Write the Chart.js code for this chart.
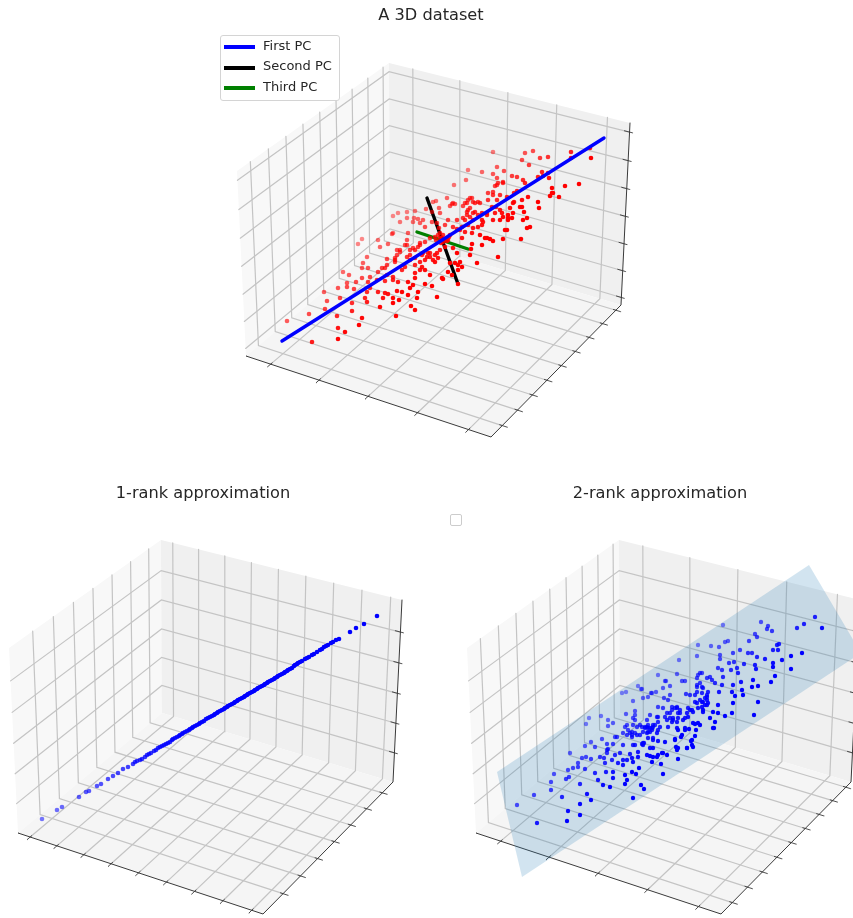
<!DOCTYPE html>
<html>
<head>
<meta charset="utf-8">
<script src="https://cdn.jsdelivr.net/npm/chart.js@4"></script>
<style>
html, body { margin: 0; padding: 0; background: #fff; overflow: hidden; width: 853px; height: 918px; }
canvas { position: absolute; filter: blur(0.55px); }
.title { position: absolute; font: 16.2px "DejaVu Sans"; color: #262626; transform: translateX(-50%); white-space: nowrap; filter: blur(0.3px); }
#legend { position: absolute; left: 220px; top: 35px; width: 118px; height: 64px; background: rgba(255,255,255,0.85); border: 1px solid #d4d4d4; border-radius: 3px; filter: blur(0.3px); }
.key { position: absolute; left: 3px; width: 31px; height: 3.5px; }
.lab { position: absolute; left: 42px; font: 13px "DejaVu Sans"; color: #262626; white-space: nowrap; }
#emptyLegend { position: absolute; left: 450px; top: 514px; width: 10px; height: 10px; background: #fff; border: 1px solid #ccc; border-radius: 2px; }
</style>
</head>
<body>
<canvas id="chart1"></canvas>
<canvas id="chart2"></canvas>
<canvas id="chart3"></canvas>
<div class="title" style="left:431px;top:5px">A 3D dataset</div>
<div class="title" style="left:203px;top:483px">1-rank approximation</div>
<div class="title" style="left:660px;top:483px">2-rank approximation</div>
<div id="legend">
  <div class="key" style="top:9px;background:#0000ff"></div><div class="lab" style="top:2px">First PC</div>
  <div class="key" style="top:30px;background:#000"></div><div class="lab" style="top:22px">Second PC</div>
  <div class="key" style="top:50px;background:#008000"></div><div class="lab" style="top:43px">Third PC</div>
</div>
<div id="emptyLegend"></div>
<script>
// the box of the lower left plot. the other two are the same box moved
var cornerL = [18, 833];
var cornerF = [263, 914];
var cornerR = [393, 782];
var cornerB = [162, 713];
var cornerLtop = [9, 648];
var cornerRtop = [402, 600];
var cornerBtop = [161, 540];

// tick positions along each axis, 0..1 of the box
var ticksX5 = [0.105, 0.308, 0.51, 0.71, 0.912];
var ticksX9 = [0.052, 0.165, 0.278, 0.391, 0.504, 0.617, 0.73, 0.843, 0.956];
var ticksY7 = [0.143, 0.271, 0.399, 0.527, 0.655, 0.783, 0.911];
var ticksY9 = [0.08, 0.19, 0.30, 0.409, 0.519, 0.628, 0.738, 0.848, 0.957];
var ticksZ5 = [0.166, 0.332, 0.498, 0.664, 0.83];
var ticksZ7 = [0.043, 0.195, 0.346, 0.498, 0.649, 0.80, 0.952];

var firstPC = [[282, 341], [604, 138]];
var secondPC = [[427, 198], [458, 284]];
var thirdPC = [[417, 232], [468, 249]];
var planeEdge = [[497, 772], [809, 565], [861, 653], [522, 877], [497, 772]];

var redPoints = [
[493,152],[525,153],[533,151],[540,158],[548,157],[571,152],[571,158],[591,158],[590,148],[522,160],[529,165],[497,167],
[468,170],[482,172],[493,174],[504,171],[512,176],[517,177],[542,172],[548,173],[538,177],[543,176],[549,178],[466,180],
[454,185],[497,178],[503,182],[498,183],[495,186],[493,192],[488,193],[500,195],[507,197],[514,193],[523,180],[525,183],
[565,186],[579,184],[552,188],[552,193],[550,196],[553,193],[559,197],[528,197],[538,202],[539,208],[522,200],[517,191],
[520,207],[524,212],[514,202],[447,198],[470,198],[473,202],[478,202],[467,203],[463,206],[452,204],[455,204],[436,201],
[488,200],[492,207],[496,207],[468,210],[473,213],[467,215],[482,213],[487,213],[495,213],[500,210],[503,217],[508,215],
[512,218],[508,220],[493,220],[483,222],[473,220],[463,218],[457,220],[448,220],[433,202],[527,228],[507,230],[393,216],
[398,213],[407,212],[415,211],[407,218],[400,222],[414,218],[418,219],[423,220],[420,223],[413,222],[426,209],[432,212],
[439,208],[440,213],[453,203],[450,206],[392,234],[425,227],[432,222],[437,223],[439,228],[445,225],[453,227],[450,235],
[457,229],[462,227],[468,225],[478,227],[482,220],[465,232],[472,233],[480,235],[485,238],[490,239],[493,241],[503,239],
[521,239],[482,245],[472,244],[470,255],[498,257],[477,263],[457,253],[440,233],[435,237],[430,238],[425,242],[420,245],
[415,250],[410,250],[405,245],[400,250],[397,255],[395,260],[407,257],[415,258],[422,255],[428,253],[435,255],[440,250],
[445,247],[443,242],[440,238],[448,240],[435,262],[425,260],[422,267],[425,270],[415,273],[430,275],[450,263],[460,262],
[462,267],[458,270],[448,272],[442,278],[402,270],[393,277],[505,230],[530,227],[513,213],[523,220],[471,249],[487,238],
[452,275],[443,279],[458,284],[432,286],[425,284],[437,297],[418,292],[410,288],[413,285],[408,282],[420,270],[433,260],
[427,257],[402,292],[397,291],[388,294],[393,298],[383,298],[378,292],[385,293],[399,300],[393,303],[408,295],[417,298],
[411,306],[415,310],[380,307],[396,316],[365,298],[367,302],[352,303],[340,298],[327,301],[324,292],[338,288],[347,287],
[354,289],[347,283],[356,282],[362,278],[370,277],[368,282],[367,292],[370,288],[377,280],[385,281],[393,280],[398,282],
[387,275],[378,272],[382,268],[387,265],[395,262],[395,258],[387,259],[367,257],[363,263],[368,268],[362,268],[349,275],
[343,272],[358,244],[362,239],[378,240],[380,247],[388,244],[397,250],[400,252],[407,240],[407,245],[413,248],[393,233],
[408,233],[420,243],[430,253],[437,253],[415,265],[410,260],[385,268],[415,278],[309,314],[325,309],[337,316],[352,311],
[362,318],[359,325],[338,328],[345,332],[338,339],[312,342],[287,321],[442,238],[445,240],[438,235],[447,241],[443,235],
[436,240],[441,243],[449,237],[468,200],[472,198],[465,203],[475,203],[480,203],[470,208],[467,212],[475,212],[478,215],
[470,217],[465,220],[493,195],[497,185],[497,200],[503,183],[510,208],[513,203],[522,207],[527,218],[502,213],[500,220],
[508,218],[487,215],[482,225],[473,228],[460,230],[462,238],[453,248],[458,265],[455,263],[423,253],[418,247],[430,257],
[410,255],[420,262],[405,267],[438,258]
];

var linePoints = [
[42,819],[57,810],[62,807],[79,797],[86,792],[89,791],[97,786],[101,784],[108,779],[113,776],[118,773],[123,769],[128,767],
[133,764],[135,762],[137,761],[140,760],[142,759],[145,757],[147,755],[149,754],[151,753],[154,751],[156,750],[158,748],[160,747],
[162,746],[164,745],[166,744],[168,743],[170,742],[172,740],[173,739],[175,738],[177,737],[179,736],[180,735],[182,734],[183,733],
[185,732],[187,731],[189,730],[190,729],[192,728],[193,727],[195,726],[197,725],[199,724],[200,723],[202,722],[204,721],[206,719],
[208,718],[210,717],[212,716],[214,715],[215,714],[217,713],[218,712],[220,711],[222,710],[224,709],[225,708],[227,707],[228,706],
[230,705],[232,704],[234,703],[235,702],[237,701],[238,700],[240,699],[242,698],[244,697],[245,696],[247,695],[248,694],[250,693],
[252,692],[254,691],[255,690],[257,689],[258,688],[260,687],[262,686],[264,685],[265,684],[267,683],[268,682],[270,681],[272,680],
[274,679],[275,678],[277,677],[278,676],[280,675],[282,674],[284,673],[285,672],[287,671],[288,670],[290,669],[292,668],[294,666],
[295,665],[297,664],[298,663],[300,662],[302,661],[305,659],[307,658],[309,657],[312,655],[314,654],[317,652],[320,650],[322,649],
[324,647],[326,646],[328,645],[331,643],[333,642],[336,640],[339,639],[350,632],[356,628],[364,624],[377,616]
];

var bluePoints = [
[517,805],[537,823],[534,795],[551,790],[551,782],[554,774],[562,797],[568,811],[567,821],[580,815],[580,804],[587,794],
[591,800],[580,784],[566,779],[569,777],[568,770],[573,768],[578,767],[578,763],[582,758],[586,757],[591,759],[585,769],
[595,773],[598,780],[603,785],[610,787],[606,772],[613,772],[613,778],[625,775],[627,780],[625,784],[633,798],[641,785],
[644,789],[632,772],[636,774],[639,768],[627,760],[633,762],[623,760],[618,763],[612,760],[604,758],[605,763],[570,753],
[585,746],[595,747],[591,742],[602,739],[607,744],[613,744],[608,749],[607,753],[620,753],[630,754],[638,752],[635,745],
[642,744],[644,743],[650,748],[653,748],[650,756],[657,757],[662,753],[667,755],[663,774],[661,764],[652,762],[678,759],
[677,750],[676,747],[687,748],[693,747],[691,741],[695,736],[681,737],[675,739],[665,742],[658,741],[653,738],[586,724],
[589,718],[601,716],[608,720],[613,723],[608,726],[626,714],[635,711],[622,693],[626,692],[633,701],[638,686],[642,689],
[643,698],[648,697],[652,693],[658,675],[663,688],[665,681],[677,674],[679,660],[697,656],[698,645],[711,646],[723,625],
[719,647],[725,642],[728,641],[720,655],[720,659],[733,653],[740,650],[749,641],[755,634],[757,637],[761,622],[768,626],
[767,629],[772,631],[797,628],[804,624],[815,617],[822,628],[777,645],[779,644],[773,650],[778,650],[791,656],[802,653],
[782,660],[773,663],[773,667],[791,669],[775,676],[771,682],[765,659],[757,657],[748,653],[752,653],[744,664],[755,665],
[756,669],[753,680],[758,686],[752,687],[758,702],[754,715],[743,695],[742,690],[735,696],[732,692],[733,703],[732,713],
[741,682],[733,685],[738,673],[737,668],[731,670],[729,663],[734,662],[722,670],[718,668],[723,677],[722,685],[715,683],
[719,692],[710,677],[707,678],[700,673],[697,678],[697,685],[702,687],[708,692],[707,697],[700,700],[695,702],[690,695],
[686,694],[695,695],[703,702],[708,703],[703,710],[698,708],[692,710],[713,712],[718,713],[725,716],[715,722],[710,718],
[714,728],[698,723],[695,724],[688,717],[683,720],[680,713],[677,708],[672,707],[667,713],[663,708],[657,717],[670,718],
[673,720],[685,730],[689,729],[678,730],[668,727],[660,727],[658,722],[650,715],[647,720],[647,727],[652,730],[657,733],
[642,727],[637,727],[632,732],[633,718],[635,715],[625,727],[623,733],[630,733],[640,735],[648,738],[617,737],[643,745],
[666,681],[670,686],[682,681],[685,681],[656,692],[651,693],[641,689],[670,695],[664,698],[668,700],[658,707],[658,717],
[665,717],[670,713],[675,708],[680,710],[673,718],[678,718],[688,708],[693,712],[687,713],[697,692],[702,693],[707,695],
[707,700],[702,702],[697,703],[705,705],[703,712],[718,705],[635,720],[640,725],[648,728],[653,725],[627,725],[632,735],
[615,737],[677,728],[685,728],[693,723],[700,725],[713,728],[675,740],[682,735],[692,740],[696,730],[643,743],[653,740],
[633,745],[623,745],[678,748],[687,748],[692,745],[607,750],[638,757],[647,755],[698,675],[702,673],[712,680],[700,683],
[697,687],[703,688],[705,698],[702,707],[707,705],[648,725],[645,728],[652,728],[655,725],[650,732],[658,730],[647,733],
[672,710],[677,707],[678,713],[667,720],[672,722],[677,722],[685,718],[690,710],[633,725],[628,730],[637,735],[632,737],
[645,727],[650,728],[648,732],[653,727],[643,732],[635,733],[627,735],[663,753],[658,755],[653,757],[632,758],[623,765],
[615,755],[600,757]
];

// point on a 4 cornered pane for u,v in 0..1, keeps the perspective
function onPane(q, u, v) {
    var dx1 = q[1][0] - q[2][0], dy1 = q[1][1] - q[2][1];
    var dx2 = q[3][0] - q[2][0], dy2 = q[3][1] - q[2][1];
    var dx3 = q[0][0] - q[1][0] + q[2][0] - q[3][0];
    var dy3 = q[0][1] - q[1][1] + q[2][1] - q[3][1];
    var det = dx1 * dy2 - dx2 * dy1;
    var g = (dx3 * dy2 - dx2 * dy3) / det;
    var h = (dx1 * dy3 - dx3 * dy1) / det;
    var w = g * u + h * v + 1;
    return {
        x: ((q[1][0] - q[0][0] + g * q[1][0]) * u + (q[3][0] - q[0][0] + h * q[3][0]) * v + q[0][0]) / w,
        y: ((q[1][1] - q[0][1] + g * q[1][1]) * u + (q[3][1] - q[0][1] + h * q[3][1]) * v + q[0][1]) / w
    };
}

function moved(p, dx, dy) { return [p[0] + dx, p[1] + dy]; }
function toXY(list) { return list.map(function (p) { return { x: p[0], y: p[1] }; }); }

function lineSet(data, color, width) {
    return { type: "scatter", showLine: true, data: data, borderColor: color, borderWidth: width, pointRadius: 0, tension: 0, fill: false, borderCapStyle: "round" };
}
function paneSet(list, color) {
    return { type: "scatter", showLine: true, data: toXY(list), borderWidth: 0, borderColor: color, backgroundColor: color, pointRadius: 0, tension: 0, fill: "shape" };
}
function dotSet(list, rgb, radius, dx, dy, base, kx, ky) {
    return {
        type: "scatter", data: toXY(list), pointRadius: radius, pointBorderWidth: 0, borderWidth: 0,
        backgroundColor: function (ctx) {
            // far away points fade, like depthshade does
            var a = base + kx * (ctx.raw.x - dx - 132) + ky * (ctx.raw.y - dy - 717);
            a = Math.max(0.35, Math.min(1, a));
            return "rgba(" + rgb + "," + a + ")";
        }
    };
}

function boxSets(dx, dy, tx, ty, tz) {
    var L = moved(cornerL, dx, dy), F = moved(cornerF, dx, dy), R = moved(cornerR, dx, dy), B = moved(cornerB, dx, dy);
    var Lt = moved(cornerLtop, dx, dy), Rt = moved(cornerRtop, dx, dy), Bt = moved(cornerBtop, dx, dy);
    var floor = [L, F, R, B], back = [B, R, Rt, Bt], side = [L, B, Bt, Lt];
    var sets = [];
    sets.push(paneSet([L, B, Bt, Lt, L], "#f8f8f8"));
    sets.push(paneSet([B, R, Rt, Bt, B], "#f0f0f0"));
    sets.push(paneSet([L, F, R, B, L], "#f5f5f5"));
    var gridColor = "#c4c4c4";
    tx.forEach(function (t) {
        sets.push(lineSet([onPane(floor, t, 0), onPane(floor, t, 1), onPane(back, t, 1)], gridColor, 1.2));
    });
    ty.forEach(function (t) {
        sets.push(lineSet([onPane(floor, 1, t), onPane(floor, 0, t), onPane(side, t, 1)], gridColor, 1.2));
    });
    tz.forEach(function (t) {
        sets.push(lineSet([onPane(side, 0, t), onPane(side, 1, t), onPane(back, 1, t)], gridColor, 1.2));
    });
    var axisColor = "#3a3a3a";
    sets.push(lineSet(toXY([L, F, R, Rt]), axisColor, 1));
    tx.forEach(function (t) { sets.push(lineSet([onPane(floor, t, -0.02), onPane(floor, t, 0.01)], axisColor, 0.9)); });
    ty.forEach(function (t) { sets.push(lineSet([onPane(floor, 1.02, t), onPane(floor, 0.99, t)], axisColor, 0.9)); });
    tz.forEach(function (t) { sets.push(lineSet([onPane(back, 1.012, t), onPane(back, 0.98, t)], axisColor, 0.9)); });
    return sets;
}

function drawPanel(id, xMin, xMax, yMin, yMax, sets) {
    var c = document.getElementById(id);
    c.width = xMax - xMin;
    c.height = yMax - yMin;
    c.style.left = xMin + "px";
    c.style.top = yMin + "px";
    // first dataset is drawn on top, so flip the back to front list
    return new Chart(c, {
        type: "scatter",
        data: { datasets: sets.reverse() },
        options: {
            responsive: false,
            animation: false,
            layout: { padding: 0, autoPadding: false },
            plugins: { legend: { display: false }, title: { display: false }, tooltip: { enabled: false } },
            scales: {
                x: { type: "linear", min: xMin, max: xMax, display: false },
                y: { type: "linear", min: yMin, max: yMax, reverse: true, display: false }
            }
        }
    });
}

var sets1 = boxSets(228, -477, ticksX5, ticksY9, ticksZ7);
sets1.push(lineSet(toXY(thirdPC), "#008000", 3.4));
sets1.push(lineSet(toXY(secondPC), "#000000", 3.4));
sets1.push(dotSet(redPoints, "255,0,0", 2.3, 228, -477, 0.45, 0.0047, 0.0065));
sets1.push(lineSet(toXY(firstPC), "#0000ff", 3.4));
drawPanel("chart1", 200, 660, 30, 450, sets1);

var sets2 = boxSets(0, 0, ticksX9, ticksY7, ticksZ5);
sets2.push(dotSet(linePoints, "0,0,255", 2.3, 0, 0, 0.75, 0.0025, 0));
drawPanel("chart2", 0, 430, 520, 918, sets2);

var sets3 = boxSets(458, 0, ticksX5, ticksY9, ticksZ5);
sets3.push(paneSet(planeEdge, "rgba(31,119,180,0.2)"));
sets3.push(dotSet(bluePoints, "0,0,255", 2.2, 458, 0, 0.45, 0.0047, 0.0065));
drawPanel("chart3", 450, 853, 520, 918, sets3);
</script>
</body>
</html>
